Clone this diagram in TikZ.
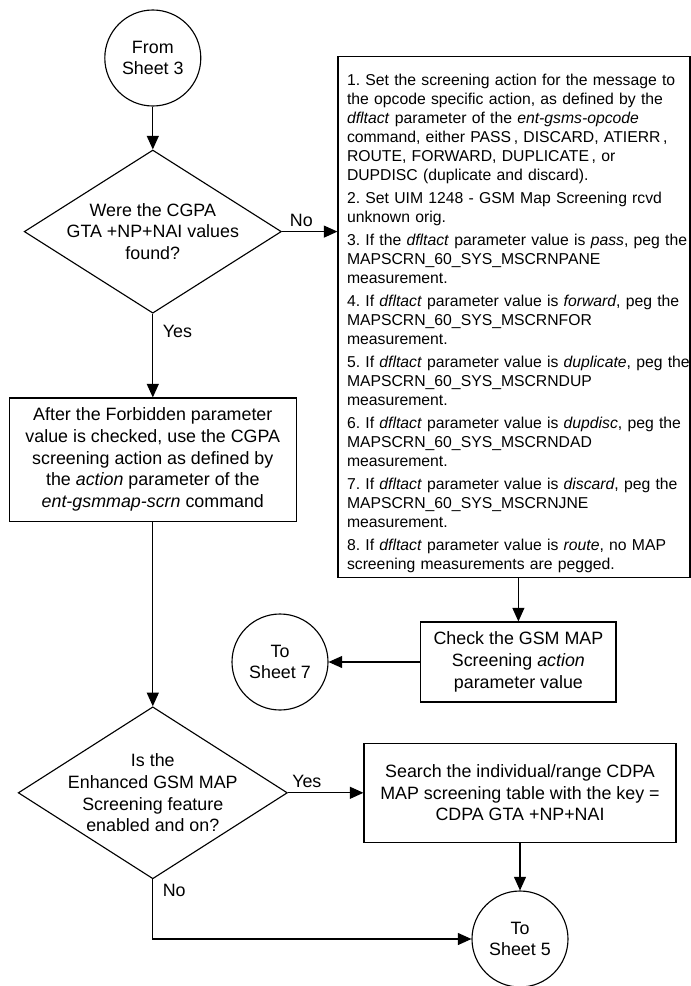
\documentclass[tikz,border=0pt]{standalone}
\usepackage{fontspec}
\setmainfont{Liberation Sans}
\usepackage{tikz}
\usetikzlibrary{positioning,
				arrows.meta,
				shapes.geometric}
\frenchspacing

\begin{document}
\begin{tikzpicture}[thick,
  flow/.style={font=\fontsize{12.7}{15.4}\selectfont, align=center},
  sheet/.style={flow, circle, draw, minimum size=2.4cm, inner sep=0pt},
  decision/.style={diamond, draw, inner sep=0pt},
  process/.style={flow, rectangle, draw},
  arrow/.style={-{Triangle[length=0.34cm,width=0.3cm]}}]
  \useasboundingbox (0,0) rectangle (17.275,-24.65);
  \node[sheet](from3) at (3.82,-1.45) {From\\Sheet 3};
  \node[decision, minimum width=6.43cm, minimum height=4.08cm,
        label={[flow]center:{Were the CGPA\\GTA +NP+NAI values\\found?}}](dec1) at (3.82,-5.79) {};
  \node[process, minimum width=7.18cm, minimum height=3.08cm](forbid) at (3.82,-11.49)
    {After the Forbidden parameter\\value is checked, use the CGPA\\screening action as defined by\\the \textit{action} parameter of the\\\textit{ent-gsmmap-scrn} command};
  \node[decision, minimum width=6.73cm, minimum height=4.3cm,
        label={[flow]center:{Is the\\Enhanced GSM MAP\\Screening feature\\enabled and on?}}](dec2) at (3.82,-19.82) {};
  \node[draw, align=left, text width=8.35cm, minimum height=13cm, inner xsep=0.225cm, inner ysep=0.12cm,
        font=\fontsize{11.2}{13.45}\selectfont](actions) at (12.85,-7.925)
    {\rule{0pt}{17.4pt}1. Set the screening action for the message to\\
     the opcode specific action, as defined by the\\
     \textit{dfltact} parameter of the \textit{ent-gsms-opcode}\\
     command, either PASS\,, DISCARD, ATIERR\,,\\
     ROUTE, FORWARD, DUPLICATE\,, or\\
     DUPDISC (duplicate and discard).\\[3pt]
     2. Set UIM 1248 - GSM Map Screening rcvd\\
     unknown orig.\\[3pt]
     \mbox{3. If the \textit{dfltact} parameter value is \textit{pass}, peg the}\\
     MAPSCRN\_60\_SYS\_MSCRNPANE\\
     measurement.\\[3pt]
     \mbox{4. If \textit{dfltact} parameter value is \textit{forward}, peg the}\\
     MAPSCRN\_60\_SYS\_MSCRNFOR\\
     measurement.\\[3pt]
     \mbox{5. If \textit{dfltact} parameter value is \textit{duplicate}, peg the}\\
     MAPSCRN\_60\_SYS\_MSCRNDUP\\
     measurement.\\[3pt]
     \mbox{6. If \textit{dfltact} parameter value is \textit{dupdisc}, peg the}\\
     MAPSCRN\_60\_SYS\_MSCRNDAD\\
     measurement.\\[3pt]
     \mbox{7. If \textit{dfltact} parameter value is \textit{discard}, peg the}\\
     MAPSCRN\_60\_SYS\_MSCRNJNE\\
     measurement.\\[3pt]
     8. If \textit{dfltact} parameter value is \textit{route}, no MAP\\
     screening measurements are pegged.};
  \node[process, minimum width=4.88cm, minimum height=2cm](check) at (12.96,-16.55)
    {Check the GSM MAP\\Screening \textit{action}\\parameter value};
  \node[sheet](to7) at (7,-16.55) {To\\Sheet 7};
  \node[process, minimum width=7.8cm, minimum height=2.48cm](search) at (13,-19.82)
    {Search the individual/range CDPA\\MAP screening table with the key =\\CDPA GTA +NP+NAI};
  \node[sheet](to5) at (13,-23.475) {To\\Sheet 5};

  \draw[arrow](from3) -- (dec1);
  \draw[arrow](dec1) -- node[flow, above, pos=0.35]{No} (dec1 -| actions.west);
  \draw[arrow](dec1) -- node[flow, pos=0, anchor=north west, xshift=0.12cm, yshift=-0.15cm]{Yes} (forbid);
  \draw[arrow](forbid) -- (dec2);
  \draw[arrow](actions.south -| check.north) -- (check.north);
  \draw[arrow](check) -- (to7);
  \draw[arrow](dec2) -- node[flow, above, pos=0.25]{Yes} (search);
  \draw[arrow](search) -- (to5);
  \draw[arrow](dec2.south) |- node[flow, pos=0, anchor=north west, xshift=0.12cm]{No} (to5.west);
\end{tikzpicture}
\end{document}
